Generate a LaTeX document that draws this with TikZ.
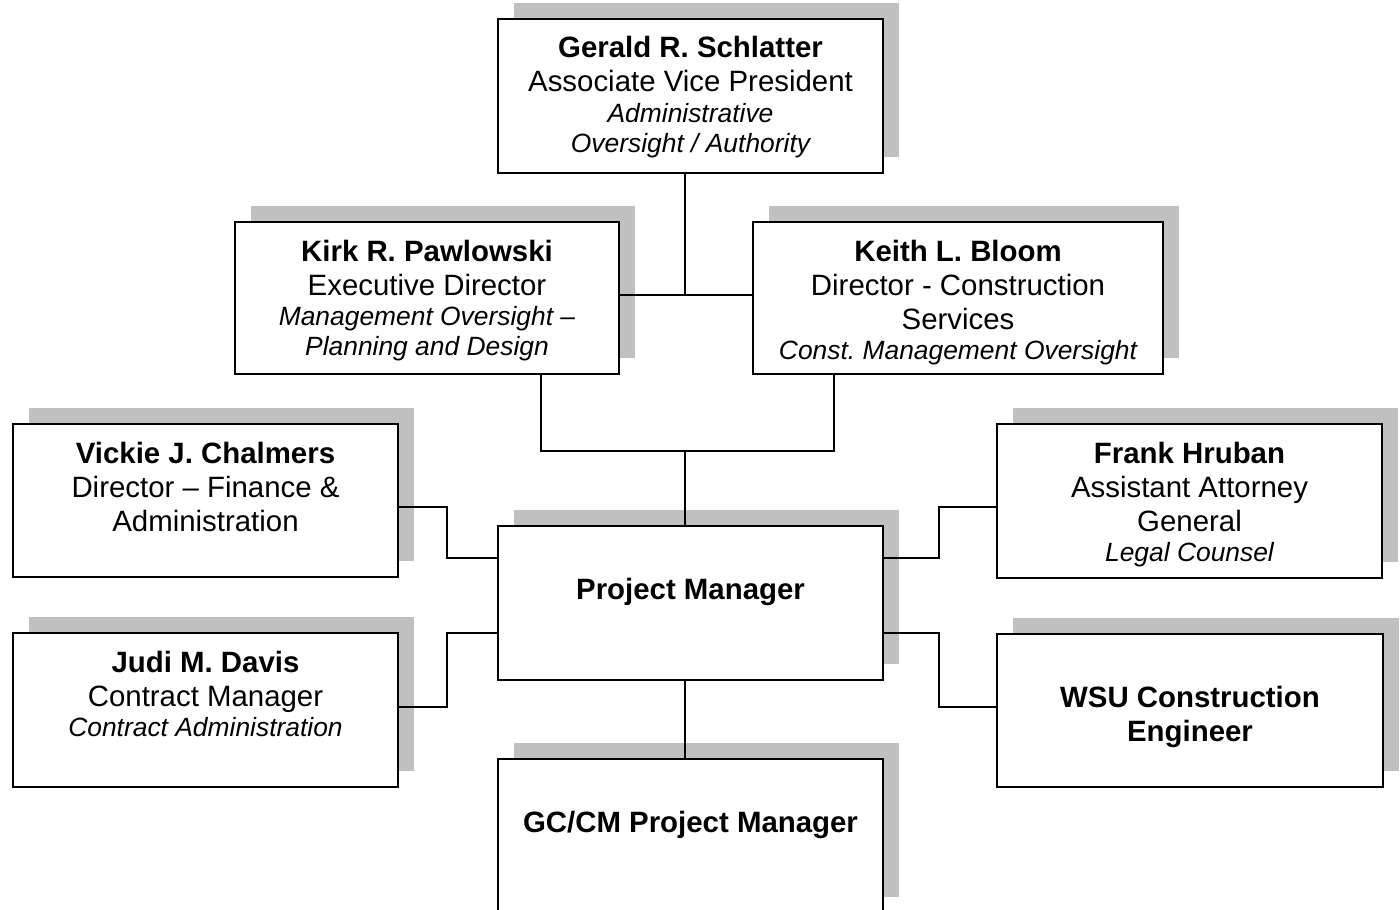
\documentclass[tikz,border=0pt]{standalone}
\usepackage{fontspec}
\setmainfont{Liberation Sans}
\usetikzlibrary{shadows}
\definecolor{shadowgray}{RGB}{192,192,192}
\frenchspacing

% one drawing unit
\newdimen\pxu \pxu=0.5pt

% text lines inside a box: name, title, italic note
\newcommand\Lname[1]{{\fontsize{14.7}{17}\selectfont\bfseries\strut #1\par}}
\newcommand\Ltitle[1]{{\fontsize{14.7}{17}\selectfont\strut #1\par}}
\newcommand\Lnote[1]{{\fontsize{13.2}{15.2}\selectfont\itshape\strut #1\par}}

\tikzset{
  orgbox/.style={draw=black, line width=1pt, fill=white, inner sep=0pt,
    anchor=north west,
    drop shadow={shadow xshift=8pt, shadow yshift=8pt, fill=shadowgray, opacity=1}},
  link/.style={draw=black, line width=0.9pt}
}

% name, x, y (top left), width, height, text
\newcommand\orgbox[6]{%
  \node[orgbox] (#1) at (#2,#3)
    {\parbox[c][#5\pxu][t]{#4\pxu}{\lineskiplimit=-100pt\centering\vspace*{7.6pt}#6}};}

\begin{document}
\begin{tikzpicture}[x=0.5pt, y=-0.5pt]
\useasboundingbox (0,0) rectangle (1400,909);

\orgbox{ger}{497}{18}{385}{154}{%
  \Lname{Gerald R. Schlatter}\Ltitle{Associate Vice President}%
  \Lnote{Administrative}\Lnote{Oversight / Authority}}
\orgbox{kirk}{234}{221}{384}{152}{%
  \Lname{Kirk R. Pawlowski}\Ltitle{Executive Director}%
  \Lnote{Management Oversight –}\Lnote{Planning and Design}}
\orgbox{keith}{752}{221}{410}{152}{%
  \Lname{Keith L. Bloom}\Ltitle{Director - Construction}\Ltitle{Services}%
  \Lnote{Const. Management Oversight}}
\orgbox{vic}{12}{423}{385}{153}{%
  \Lname{Vickie J. Chalmers}\Ltitle{Director – Finance \&}\Ltitle{Administration}}
\orgbox{frank}{996}{423}{385}{154}{%
  \Lname{Frank Hruban}\Ltitle{Assistant Attorney}\Ltitle{General}%
  \Lnote{Legal Counsel}}
\orgbox{pm}{497}{525}{385}{154}{%
  \Ltitle{}\Lname{Project Manager}}
\orgbox{judi}{12}{632}{385}{154}{%
  \Lname{Judi M. Davis}\Ltitle{Contract Manager}\Lnote{Contract Administration}}
\orgbox{wsu}{996}{633}{386}{153}{%
  \Ltitle{}\Lname{WSU Construction}\Lname{Engineer}}
\orgbox{gc}{497}{758}{385}{154}{%
  \Ltitle{}\Lname{GC/CM Project Manager}}

% junction points of the connectors
\coordinate (top) at (685,295);
\coordinate (mid) at (685,451);
\coordinate (kb) at (541,451);
\coordinate (bb) at (834,451);
\coordinate (v1) at (447,507);
\coordinate (v2) at (447,558);
\coordinate (d1) at (447,707);
\coordinate (d2) at (447,633);
\coordinate (f1) at (939,507);
\coordinate (f2) at (939,558);
\coordinate (w1) at (939,707);
\coordinate (w2) at (939,633);

\draw[link] (ger.south -| top) -- (top);
\draw[link] (kirk.east |- top) -- (keith.west |- top);
\draw[link] (kirk.south -| kb) -- (kb) -- (bb) -- (keith.south -| bb);
\draw[link] (mid) -- (pm.north -| mid);
\draw[link] (pm.south -| mid) -- (gc.north -| mid);
\draw[link] (vic.east |- v1) -- (v1) -- (v2) -- (pm.west |- v2);
\draw[link] (judi.east |- d1) -- (d1) -- (d2) -- (pm.west |- d2);
\draw[link] (frank.west |- f1) -- (f1) -- (f2) -- (pm.east |- f2);
\draw[link] (wsu.west |- w1) -- (w1) -- (w2) -- (pm.east |- w2);
\end{tikzpicture}
\end{document}
